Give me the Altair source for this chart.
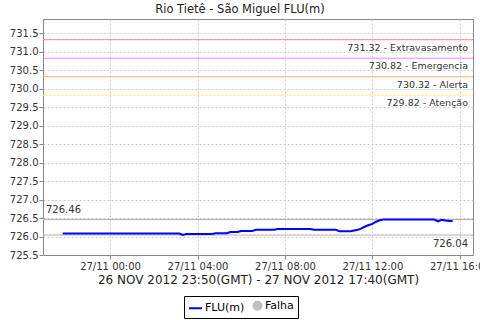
import altair as alt
import pandas as pd

# ---- data ----
start_time = "2012-11-26T21:50:00Z"   # local time (GMT-2) of first reading, 10-minute steps
levels = [
    726.08, 726.08, 726.08, 726.08, 726.08, 726.08, 726.08, 726.08, 726.08, 726.08,
    726.08, 726.08, 726.08, 726.08, 726.08, 726.08, 726.08, 726.08, 726.08, 726.08,
    726.08, 726.08, 726.08, 726.08, 726.08, 726.08, 726.08, 726.08, 726.08, 726.08,
    726.08, 726.08, 726.08,
    726.04,
    726.07, 726.07, 726.07, 726.07, 726.07, 726.07, 726.07, 726.07,
    726.09, 726.09, 726.09, 726.09,
    726.12, 726.12, 726.12,
    726.15, 726.15, 726.15, 726.15,
    726.18, 726.18, 726.18, 726.18, 726.18, 726.18,
    726.20, 726.20, 726.20, 726.20, 726.20, 726.20, 726.20, 726.20, 726.20, 726.20,
    726.18, 726.18, 726.18, 726.18, 726.18, 726.18, 726.18,
    726.14, 726.14, 726.14, 726.14,
    726.16, 726.18,
    726.22, 726.27, 726.31, 726.34, 726.40, 726.44,
    726.46, 726.46, 726.46, 726.46, 726.46, 726.46, 726.46, 726.46, 726.46, 726.46,
    726.46, 726.46, 726.46, 726.46, 726.46,
    726.41, 726.45, 726.43, 726.42, 726.42,
]
threshold_values = [731.32, 730.82, 730.32, 729.82]
threshold_names = ["Extravasamento", "Emergencia", "Alerta", "Atenção"]
threshold_colors = ["#FF8080", "#FF80FF", "#FFB070", "#FFF080"]
y_ticks = [725.5, 726.0, 726.5, 727.0, 727.5, 728.0, 728.5, 729.0, 729.5,
           730.0, 730.5, 731.0, 731.5]
x_tick_hours = [(27, 0), (27, 4), (27, 8), (27, 12), (27, 16)]
legend_items = ["FLU(m)", "Falha"]
legend_colors = ["#0000FF", "#C0C0C0"]
legend_shapes = ["stroke", "circle"]
legend_sizes = [169, 64]
title_text = "Rio Tietê - São Miguel FLU(m)"
x_title = "26 NOV 2012 23:50(GMT) - 27 NOV 2012 17:40(GMT)"

FONT = "DejaVu Sans"

times = pd.date_range(start_time, periods=len(levels), freq="10min")
df = pd.DataFrame({"time": times.strftime("%Y-%m-%dT%H:%M:%SZ"),
                   "level": levels, "series": "FLU(m)"})

thr = pd.DataFrame({
    "v": threshold_values,
    "label": [f"{v:.2f} - {n}" for v, n in zip(threshold_values, threshold_names)],
    "color": threshold_colors,
})
vmax, vmin = max(levels), min(levels)
mx = pd.DataFrame({"v": [vmax], "label": [f"{vmax:.2f}"]})
mn = pd.DataFrame({"v": [vmin], "label": [f"{vmin:.2f}"]})

W, H = 430, 236

xscale = alt.Scale(type="utc", domain=[
    alt.DateTime(year=2012, month=11, date=26, hours=20, minutes=56, utc=True),
    alt.DateTime(year=2012, month=11, date=27, hours=16, minutes=36, utc=True)],
    nice=False)
yscale = alt.Scale(domain=[725.5, 731.88], nice=False, zero=False)

xaxis = alt.Axis(
    values=[alt.DateTime(year=2012, month=11, date=d, hours=h, utc=True) for d, h in x_tick_hours],
    format="%d/%m %H:%M", title=x_title, labelFont=FONT, labelFontSize=10,
    titleFont=FONT, titleFontSize=12, titleFontWeight="normal", titleColor="#222",
    labelColor="#333", labelPadding=2, titlePadding=3, tickSize=4,
    grid=True, gridDash=[2, 2], gridColor="#CCCCCC", domainColor="#888888",
    tickColor="#888888", labelOverlap=False, labelFlush=False, labelBound=False,
)
yaxis = alt.Axis(
    values=y_ticks, format=".1f", title=None, labelFont=FONT, labelFontSize=10,
    labelColor="#333", labelPadding=1, tickSize=4, grid=True, gridDash=[2, 2],
    gridColor="#CCCCCC", domainColor="#888888", tickColor="#888888",
    labelOverlap=False, labelFlush=False,
)

def ypos(field):
    return alt.Y(field, scale=yscale, axis=yaxis, title=None)

leg = alt.Legend(
    title=None, orient="none", legendX=141, legendY=277,
    direction="horizontal", strokeColor="black", padding=4,
    labelFont=FONT, labelFontSize=11, labelColor="#000",
    symbolStrokeWidth=2, symbolOpacity=1,
    columnPadding=4, labelOffset=2, cornerRadius=0,
)
color_enc = alt.Color("series:N",
                      scale=alt.Scale(domain=legend_items, range=legend_colors),
                      legend=leg)

line = alt.Chart(df).mark_line(strokeWidth=2).encode(
    x=alt.X("time:T", scale=xscale, axis=xaxis),
    y=ypos("level:Q"),
    color=color_enc,
)

legend_pts = alt.Chart(df).transform_filter("false").mark_point(filled=True, opacity=1).encode(
    x=alt.X("time:T", scale=xscale, axis=xaxis),
    y=ypos("level:Q"),
    color=color_enc,
    shape=alt.Shape("series:N",
                    scale=alt.Scale(domain=legend_items, range=legend_shapes),
                    legend=leg),
    size=alt.Size("series:N",
                  scale=alt.Scale(domain=legend_items, range=legend_sizes),
                  legend=leg),
)

thr_rules = alt.Chart(thr).mark_rule(strokeWidth=1).encode(
    y=ypos("v:Q"),
    color=alt.Color("color:N", scale=None),
)
thr_text = alt.Chart(thr).mark_text(
    align="right", baseline="middle", dy=8, font=FONT, fontSize=9.5, color="#333"
).encode(x=alt.value(W - 5), y=ypos("v:Q"), text="label:N")

mm_rules = alt.Chart(pd.concat([mx, mn])).mark_rule(color="#B0B0B0", strokeWidth=1).encode(
    y=ypos("v:Q"))
mx_text = alt.Chart(mx).mark_text(
    align="left", baseline="middle", dy=-9, font=FONT, fontSize=10, color="#333"
).encode(x=alt.value(3), y=ypos("v:Q"), text="label:N")
mn_text = alt.Chart(mn).mark_text(
    align="right", baseline="middle", dy=9, font=FONT, fontSize=10, color="#333"
).encode(x=alt.value(W - 5), y=ypos("v:Q"), text="label:N")

chart = alt.layer(thr_rules, mm_rules, line, legend_pts, thr_text, mx_text, mn_text).properties(
    width=W, height=H,
    title=alt.TitleParams(title_text, font=FONT, fontSize=11.5, fontWeight="normal",
                          color="#222", offset=4, dx=-18),
    autosize=alt.AutoSizeParams(type="none"),
    padding={"left": 43, "top": 19, "right": 7, "bottom": 65},
    background="white",
).configure_view(stroke="#888888")

chart.save("out.html", embed_options={"renderer": "svg", "actions": False})
